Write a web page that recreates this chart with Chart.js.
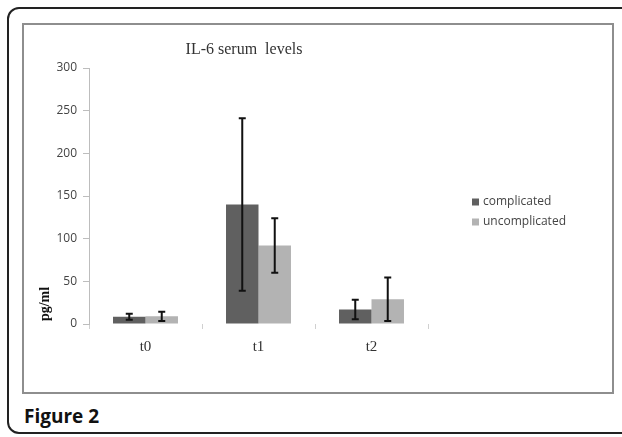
<!DOCTYPE html>
<html>
<head>
<meta charset="utf-8">
<script src="https://cdn.jsdelivr.net/npm/chart.js@4.4.0/dist/chart.umd.min.js"></script>
<style>
  html, body { margin: 0; padding: 0; background: #fff; width: 622px; height: 437px; overflow: hidden; }
  .outer { position: absolute; left: 7px; top: 7px; width: 640px; height: 427px; border: 2px solid #222; border-radius: 12px; box-sizing: border-box; }
  .frame { position: absolute; left: 22px; top: 23px; width: 592px; height: 371px; border: 2px solid #8e8e8e; box-sizing: border-box; background: #fff; }
  .caption { position: absolute; left: 24px; top: 403px; font: bold 19px "Open Sans", sans-serif; color: #111; }
  canvas { position: absolute; left: 0; top: 0; }
</style>
</head>
<body>
<div class="outer"></div>
<div class="frame"></div>
<div class="caption">Figure 2</div>
<canvas id="chart" width="622" height="437"></canvas>
<script>
const categories = ['t0', 't1', 't2'];
const complicated = [8.5, 140, 17];
const complicatedErr = [3.5, 101, 11.5];
const uncomplicated = [9, 92, 29];
const uncomplicatedErr = [5.5, 32, 25.5];
const yTicks = [0, 50, 100, 150, 200, 250, 300];

const errors = [complicatedErr, uncomplicatedErr];

const extras = {
  id: 'extras',
  afterDatasetsDraw(chart) {
    const ctx = chart.ctx;
    const y = chart.scales.y;
    ctx.save();
    ctx.strokeStyle = '#111';
    ctx.lineWidth = 2;
    chart.data.datasets.forEach((ds, i) => {
      const meta = chart.getDatasetMeta(i);
      meta.data.forEach((bar, j) => {
        const v = ds.data[j], e = errors[i][j];
        const top = y.getPixelForValue(v + e);
        const bot = y.getPixelForValue(Math.max(0, v - e));
        ctx.beginPath();
        ctx.moveTo(bar.x, top); ctx.lineTo(bar.x, bot);
        ctx.moveTo(bar.x - 3.5, top); ctx.lineTo(bar.x + 3.5, top);
        ctx.moveTo(bar.x - 3.5, bot); ctx.lineTo(bar.x + 3.5, bot);
        ctx.stroke();
      });
    });
    ctx.restore();
  },
  afterDraw(chart) {
    const ctx = chart.ctx;
    ctx.save();
    // title
    ctx.fillStyle = '#333';
    ctx.font = '16px "Liberation Serif", serif';
    ctx.textAlign = 'center';
    ctx.textBaseline = 'middle';
    ctx.fillText('IL-6 serum  levels', 244, 50);
    // y axis label
    ctx.translate(45, 304);
    ctx.rotate(-Math.PI / 2);
    ctx.font = 'bold 14px "Liberation Serif", serif';
    ctx.fillStyle = '#111';
    ctx.fillText('pg/ml', 0, 0);
    ctx.restore();
    // legend
    ctx.save();
    ctx.font = '12px "Open Sans", sans-serif';
    ctx.textBaseline = 'middle';
    ctx.textAlign = 'left';
    chart.data.datasets.forEach((ds, i) => {
      const cy = 202 + i * 20;
      ctx.fillStyle = ds.backgroundColor;
      ctx.fillRect(472, cy - 3.5, 7, 7);
      ctx.fillStyle = '#444';
      ctx.fillText(ds.label, 483, cy);
    });
    ctx.restore();
  }
};

new Chart(document.getElementById('chart'), {
  type: 'bar',
  data: {
    labels: categories,
    datasets: [
      { label: 'complicated', data: complicated, backgroundColor: '#606060' },
      { label: 'uncomplicated', data: uncomplicated, backgroundColor: '#b3b3b3' }
    ]
  },
  options: {
    responsive: false,
    animation: false,
    events: [],
    layout: { padding: { left: 49, right: 194, top: 68, bottom: 73 } },
    datasets: { bar: { categoryPercentage: 0.575, barPercentage: 1 } },
    plugins: { legend: { display: false }, title: { display: false }, tooltip: { enabled: false } },
    scales: {
      x: {
        afterFit: (s) => { s.height = 40; },
        border: { display: false },
        grid: { drawOnChartArea: false, drawTicks: true, tickLength: 5, color: '#d0d0d0' },
        ticks: { color: '#333', font: { family: '"Liberation Serif", serif', size: 15 }, padding: 9 }
      },
      y: {
        min: 0,
        max: 300,
        afterFit: (s) => { s.width = 40; },
        afterBuildTicks: (s) => { s.ticks = yTicks.map(v => ({ value: v })); },
        border: { display: true, color: '#bdbdbd', width: 1 },
        grid: { drawOnChartArea: false, drawTicks: true, tickLength: 6, color: '#bdbdbd' },
        ticks: { color: '#444', font: { family: '"Open Sans", sans-serif', size: 12 }, padding: 6 }
      }
    }
  },
  plugins: [extras]
});
</script>
</body>
</html>
